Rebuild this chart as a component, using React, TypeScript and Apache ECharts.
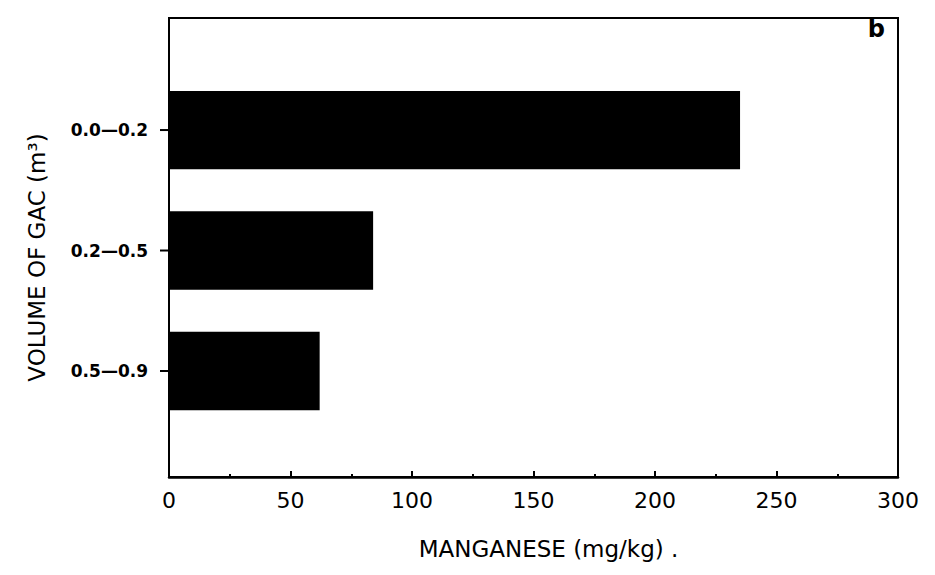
import React, { useEffect, useRef } from "react";
import * as echarts from "echarts";

const categories = ["0.0—0.2", "0.2—0.5", "0.5—0.9"];
const positions = [1, 2, 3];
const manganese = [235, 84, 62];
const xTicks = [0, 50, 100, 150, 200, 250, 300];

export default function App() {
  const ref = useRef<HTMLDivElement>(null);
  useEffect(() => {
    if (!ref.current) return;
    const chart = echarts.init(ref.current, null, { renderer: "svg" });
    const font = "DejaVu Sans";
    const data = manganese.map((v, i) => [v, positions[i]]);
    chart.setOption({
      animation: false,
      backgroundColor: "#ffffff",
      grid: {
        left: 169,
        right: 37,
        top: 18,
        bottom: 98,
        show: true,
        borderColor: "#000",
        borderWidth: 2,
      },
      xAxis: {
        type: "value",
        min: xTicks[0],
        max: xTicks[xTicks.length - 1],
        interval: 50,
        splitLine: { show: false },
        axisLine: { show: true, onZero: false, lineStyle: { color: "#000", width: 2.5 } },
        axisTick: { show: true, inside: true, length: 6, lineStyle: { color: "#000", width: 2 } },
        minorTick: { show: true, splitNumber: 2, length: 3, lineStyle: { color: "#000", width: 2 } },
        axisLabel: { color: "#000", fontFamily: font, fontSize: 22, margin: 12 },
        name: "MANGANESE (mg/kg) .",
        nameLocation: "middle",
        nameGap: 60,
        nameTextStyle: { color: "#000", fontFamily: font, fontSize: 23, padding: [0, 0, 0, 30] },
      },
      yAxis: {
        type: "value",
        inverse: true,
        min: 0.07,
        max: 3.88,
        splitLine: { show: false },
        axisLine: { show: true, onZero: false, lineStyle: { color: "#000", width: 2 } },
        axisTick: { show: false },
        axisLabel: {
          customValues: positions,
          color: "#000",
          fontFamily: font,
          fontWeight: "bold",
          fontSize: 17,
          margin: 21,
          formatter: (v: number) => {
            const i = positions.indexOf(Math.round(v));
            return i >= 0 && Math.abs(v - positions[i]) < 1e-6 ? categories[i] : "";
          },
        },
        name: "VOLUME OF GAC (m³)",
        nameLocation: "middle",
        nameGap: 121,
        nameRotate: 90,
        nameTextStyle: { color: "#000", fontFamily: font, fontSize: 23, padding: [0, 0, 0, -20] },
      },
      series: [
        {
          type: "custom",
          data,
          encode: { x: 0, y: 1 },
          renderItem: (params: any, api: any) => {
            const v = api.value(0);
            const p = api.value(1);
            const start = api.coord([0, p]);
            const end = api.coord([v, p]);
            const h = Math.abs(api.size([0, 0.65])[1]);
            return {
              type: "rect",
              shape: { x: start[0], y: start[1] - h / 2, width: end[0] - start[0], height: h },
              style: { fill: "#000" },
            };
          },
        },
      ],
    });
    const tickEls = positions.map((p) => {
      const pt = chart.convertToPixel({ gridIndex: 0 }, [0, p]) as number[];
      return {
        type: "rect",
        shape: { x: pt[0] - 9, y: pt[1] - 1, width: 9, height: 2 },
        style: { fill: "#000" },
        z: 10,
      };
    });
    chart.setOption({
      graphic: [
        {
          type: "text",
          right: 50,
          top: 17,
          style: { text: "b", fill: "#000", font: "bold 24px DejaVu Sans" },
        },
        ...tickEls,
      ],
    });
    return () => chart.dispose();
  }, []);
  return <div ref={ref} style={{ width: 935, height: 575, margin: -8 }} />;
}
